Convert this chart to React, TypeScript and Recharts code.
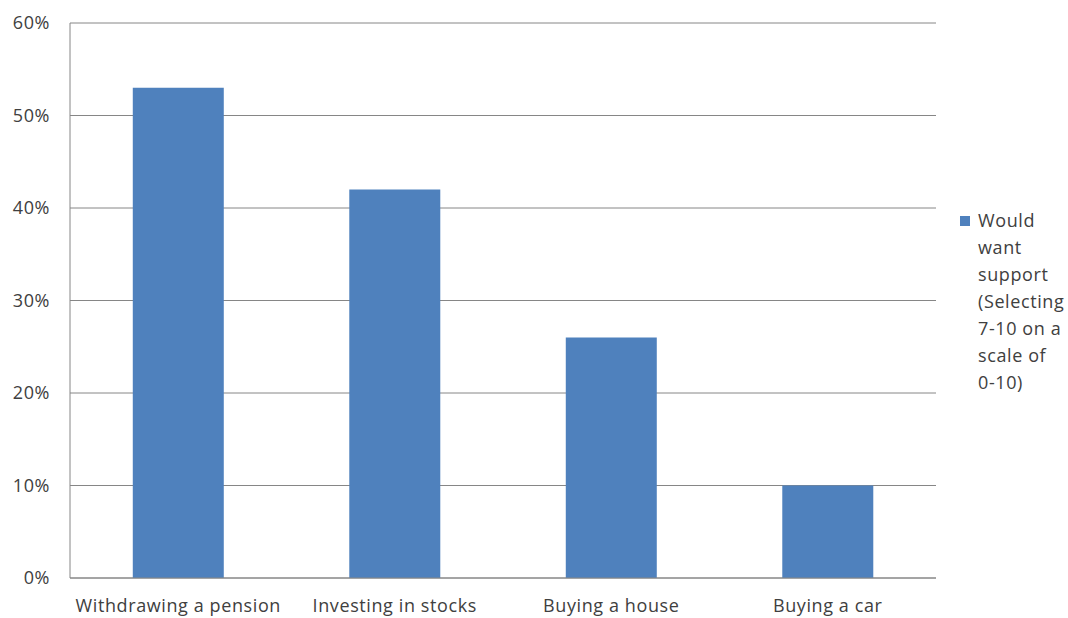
import { BarChart, Bar, XAxis, YAxis, CartesianGrid } from 'recharts';

const categories = ['Withdrawing a pension', 'Investing in stocks', 'Buying a house', 'Buying a car'];
const supportValues = [0.53, 0.42, 0.26, 0.1];
const yTicks = [0, 0.1, 0.2, 0.3, 0.4, 0.5, 0.6];
const seriesName = 'Would want support (Selecting 7-10 on a scale of 0-10)';
const legendLines = ['Would', 'want', 'support', '(Selecting', '7-10 on a', 'scale of', '0-10)'];

const data = categories.map((name, i) => ({ name, support: supportValues[i] }));

const font = '"Open Sans", sans-serif';
const tickStyle = { fill: '#404040', fontSize: 18, fontFamily: font, letterSpacing: 0.6 };

export default function App() {
  return (
    <div style={{ position: 'fixed', left: 0, top: 0, width: 1068, height: 618, background: '#fff' }}>
      <BarChart
        width={1068}
        height={618}
        data={data}
        margin={{ top: 23, right: 132, left: 0, bottom: 10 }}
        barCategoryGap="29%"
      >
        <CartesianGrid vertical={false} stroke="#868686" />
        <XAxis
          dataKey="name"
          height={30}
          tick={tickStyle}
          tickLine={false}
          tickSize={0}
          tickMargin={21}
          axisLine={{ stroke: '#868686' }}
        />
        <YAxis
          width={70}
          domain={[0, 0.6]}
          ticks={yTicks}
          tickFormatter={(v: number) => `${Math.round(v * 100)}%`}
          tick={tickStyle}
          tickLine={false}
          tickSize={0}
          tickMargin={20}
          axisLine={{ stroke: '#868686' }}
        />
        <Bar dataKey="support" name={seriesName} fill="#4F81BD" isAnimationActive={false} />
      </BarChart>
      {/* legend, placed by hand to the right of the plot */}
      <div
        style={{
          position: 'absolute',
          left: 960,
          top: 207,
          display: 'flex',
          alignItems: 'flex-start',
          fontFamily: font,
          fontSize: 18,
          letterSpacing: 0.6,
          color: '#404040',
        }}
      >
        <span style={{ width: 10, height: 10, background: '#4F81BD', marginTop: 9, marginRight: 8, flexShrink: 0 }} />
        <div style={{ lineHeight: '27px' }}>
          {legendLines.map((line) => (
            <div key={line} style={{ whiteSpace: 'nowrap' }}>{line}</div>
          ))}
        </div>
      </div>
    </div>
  );
}
